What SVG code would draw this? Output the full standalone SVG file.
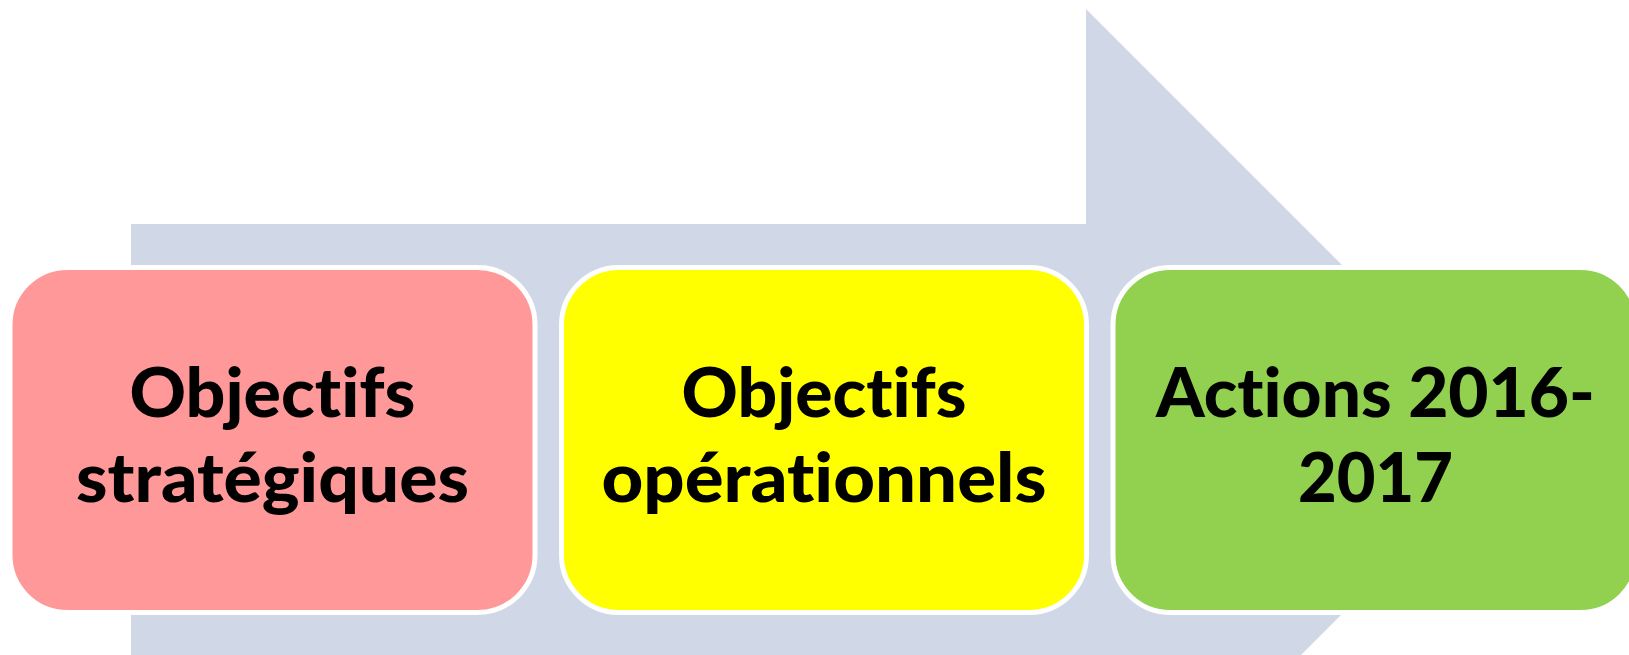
<svg xmlns="http://www.w3.org/2000/svg" width="1629" height="655" viewBox="0 0 1629 655">
<style>
.box{stroke:#FFFFFF;stroke-width:5}
.lbl{font-family:Lato,"Open Sans","Liberation Sans",sans-serif;font-weight:900;font-size:68px;fill:#000000;text-anchor:middle;font-variant-ligatures:none;font-feature-settings:"liga" 0,"clig" 0,"dlig" 0}
</style>
<rect width="1629" height="655" fill="#FFFFFF"/>
<g id="connectors">
<polygon points="131,224 1086,224 1086,9 1516.5,439.5 1086,870 1086,655 131,655" fill="#D0D8E8"/>
</g>
<g id="node-strategiques">
<rect class="box" x="10" y="267.5" width="525" height="345" rx="57.5" ry="57.5" fill="#FF9999"/>
<text class="lbl" x="272.5" y="417" textLength="286" lengthAdjust="spacingAndGlyphs">Objectifs</text>
<text class="lbl" x="272.5" y="502" textLength="393" lengthAdjust="spacingAndGlyphs">stratégiques</text>
</g>
<g id="node-operationnels">
<rect class="box" x="561.5" y="267.5" width="525" height="345" rx="57.5" ry="57.5" fill="#FFFF00"/>
<text class="lbl" x="824" y="417" textLength="285" lengthAdjust="spacingAndGlyphs">Objectifs</text>
<text class="lbl" x="824" y="502" textLength="445" lengthAdjust="spacingAndGlyphs">opérationnels</text>
</g>
<g id="node-actions">
<rect class="box" x="1113" y="267.5" width="525" height="345" rx="57.5" ry="57.5" fill="#92D050"/>
<text class="lbl" x="1375.5" y="417" textLength="439" lengthAdjust="spacingAndGlyphs">Actions 2016-</text>
<text class="lbl" x="1375.5" y="502" textLength="155" lengthAdjust="spacingAndGlyphs">2017</text>
</g>
</svg>
